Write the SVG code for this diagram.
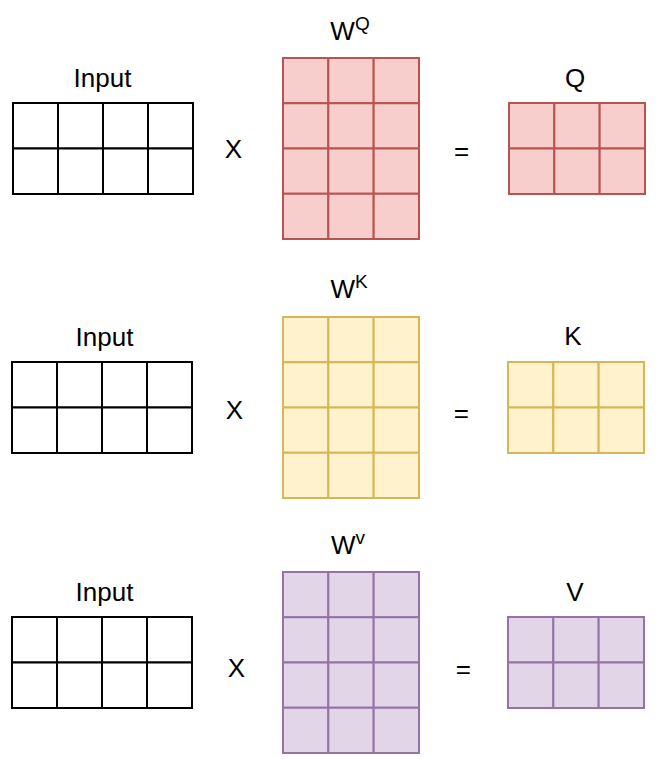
<svg xmlns="http://www.w3.org/2000/svg" xmlns:xlink="http://www.w3.org/1999/xlink" width="660" height="759" viewBox="0 0 660 759">
<style>
text{font-family:"Liberation Sans",Arial,Helvetica,sans-serif;font-size:26px;fill:#000;}
.lbl{text-anchor:middle;}
.sup{font-size:19px;}
.inp{fill:#ffffff;stroke:#000000;stroke-width:2;}
.red{fill:#f8cecc;stroke:#b85450;stroke-width:2;}
.yel{fill:#fff2cc;stroke:#d6b656;stroke-width:2;}
.pur{fill:#e1d5e7;stroke:#9673a6;stroke-width:2;}
</style>
<defs>
<g id="g4x2">
<rect x="0" y="0" width="45" height="45.5"/><rect x="45" y="0" width="45" height="45.5"/><rect x="90" y="0" width="45" height="45.5"/><rect x="135" y="0" width="45" height="45.5"/>
<rect x="0" y="45.5" width="45" height="45.5"/><rect x="45" y="45.5" width="45" height="45.5"/><rect x="90" y="45.5" width="45" height="45.5"/><rect x="135" y="45.5" width="45" height="45.5"/>
</g>
<g id="g3x4">
<rect x="0" y="0" width="45.33" height="45.25"/><rect x="45.33" y="0" width="45.33" height="45.25"/><rect x="90.67" y="0" width="45.33" height="45.25"/>
<rect x="0" y="45.25" width="45.33" height="45.25"/><rect x="45.33" y="45.25" width="45.33" height="45.25"/><rect x="90.67" y="45.25" width="45.33" height="45.25"/>
<rect x="0" y="90.5" width="45.33" height="45.25"/><rect x="45.33" y="90.5" width="45.33" height="45.25"/><rect x="90.67" y="90.5" width="45.33" height="45.25"/>
<rect x="0" y="135.75" width="45.33" height="45.25"/><rect x="45.33" y="135.75" width="45.33" height="45.25"/><rect x="90.67" y="135.75" width="45.33" height="45.25"/>
</g>
<g id="g3x2">
<rect x="0" y="0" width="45.33" height="45.5"/><rect x="45.33" y="0" width="45.33" height="45.5"/><rect x="90.67" y="0" width="45.33" height="45.5"/>
<rect x="0" y="45.5" width="45.33" height="45.5"/><rect x="45.33" y="45.5" width="45.33" height="45.5"/><rect x="90.67" y="45.5" width="45.33" height="45.5"/>
</g>
</defs>
<rect width="660" height="759" fill="#ffffff"/>

<!-- Row 1 -->
<g id="input1">
<use xlink:href="#g4x2" href="#g4x2" class="inp" transform="translate(13,103)"/>
<text class="lbl" x="102.5" y="87">Input</text>
</g>
<g id="times1"><text class="lbl" x="233.5" y="158">X</text></g>
<g id="wq">
<use xlink:href="#g3x4" href="#g3x4" class="red" transform="translate(283,58)"/>
<text class="lbl" x="350" y="40">W<tspan class="sup" dy="-10">Q</tspan></text>
</g>
<g id="eq1"><text class="lbl" x="461.7" y="160">=</text></g>
<g id="q">
<use xlink:href="#g3x2" href="#g3x2" class="red" transform="translate(509,103)"/>
<text class="lbl" x="575" y="87">Q</text>
</g>

<!-- Row 2 -->
<g id="input2">
<use xlink:href="#g4x2" href="#g4x2" class="inp" transform="translate(12,362)"/>
<text class="lbl" x="104.5" y="346">Input</text>
</g>
<g id="times2"><text class="lbl" x="234.5" y="419">X</text></g>
<g id="wk">
<use xlink:href="#g3x4" href="#g3x4" class="yel" transform="translate(283,317)"/>
<text class="lbl" x="349" y="298">W<tspan class="sup" dy="-10">K</tspan></text>
</g>
<g id="eq2"><text class="lbl" x="461.3" y="422">=</text></g>
<g id="k">
<use xlink:href="#g3x2" href="#g3x2" class="yel" transform="translate(508,362)"/>
<text class="lbl" x="573" y="345">K</text>
</g>

<!-- Row 3 -->
<g id="input3">
<use xlink:href="#g4x2" href="#g4x2" class="inp" transform="translate(12,617)"/>
<text class="lbl" x="104.5" y="601">Input</text>
</g>
<g id="times3"><text class="lbl" x="236.5" y="677">X</text></g>
<g id="wv">
<use xlink:href="#g3x4" href="#g3x4" class="pur" transform="translate(283,572)"/>
<text class="lbl" x="348" y="554">W<tspan class="sup" dy="-10">v</tspan></text>
</g>
<g id="eq3"><text class="lbl" x="463.3" y="678">=</text></g>
<g id="v">
<use xlink:href="#g3x2" href="#g3x2" class="pur" transform="translate(508,617)"/>
<text class="lbl" x="575" y="601">V</text>
</g>

<g id="connectors"></g>
</svg>
